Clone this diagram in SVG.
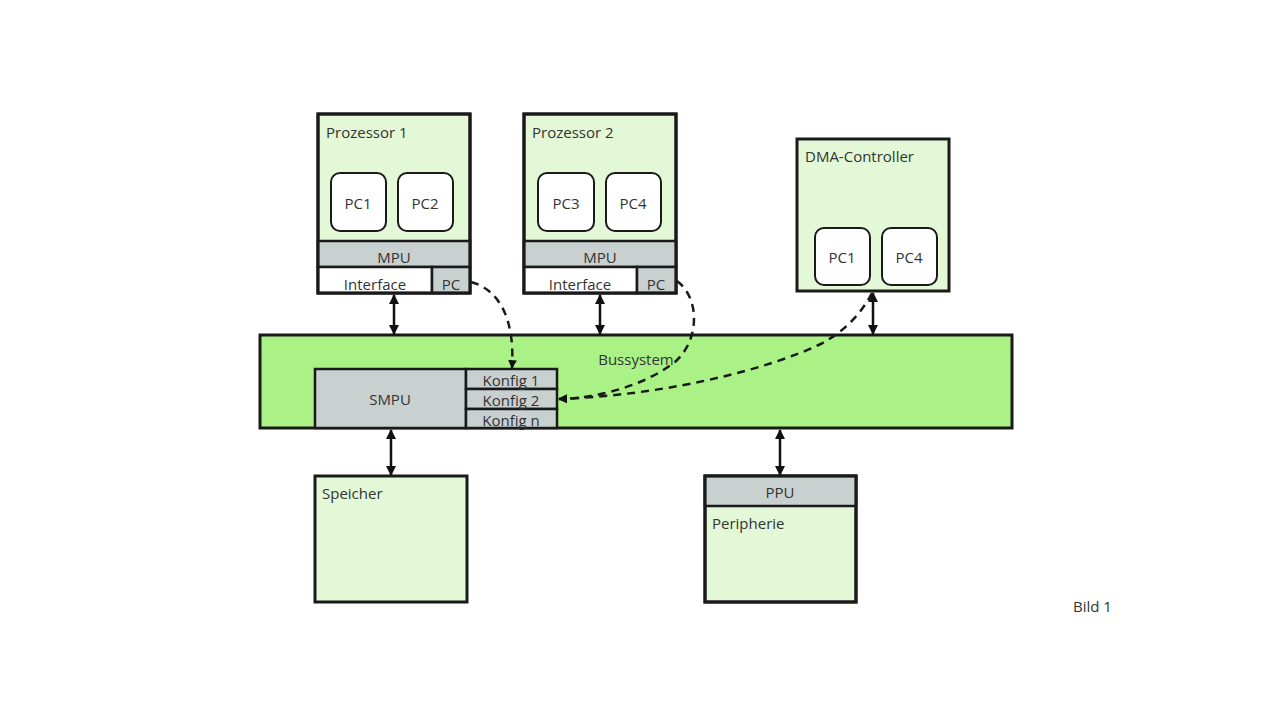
<svg xmlns="http://www.w3.org/2000/svg" width="1280" height="722" viewBox="0 0 1280 722">
<defs>
<style>
.box{fill:#e2f8d6;stroke:#1a1a1a;stroke-width:3}
.gray{fill:#c9d0d0;stroke:#1a1a1a;stroke-width:2.5}
.white{fill:#ffffff;stroke:#1a1a1a;stroke-width:2.5}
.pc{fill:#ffffff;stroke:#1a1a1a;stroke-width:2}
.bus{fill:#aaf286;stroke:#1a1a1a;stroke-width:3}
text{font-family:"Open Sans","Liberation Sans",sans-serif;font-size:15px;fill:#333}
.c{text-anchor:middle}
.arr{stroke:#111;stroke-width:2.5;fill:none;marker-start:url(#ah);marker-end:url(#ah)}
.dash{stroke:#1a1a1a;stroke-width:2.5;fill:none;stroke-dasharray:8 6;marker-end:url(#ah2)}
</style>
<marker id="ah" viewBox="0 0 10 10" refX="9" refY="5" markerWidth="4" markerHeight="4" orient="auto-start-reverse"><path d="M0,0 L10,5 L0,10 z" fill="#111"/></marker>
<marker id="ah2" viewBox="0 0 10 10" refX="9" refY="5" markerWidth="3.5" markerHeight="3.5" orient="auto"><path d="M0,0 L10,5 L0,10 z" fill="#111"/></marker>
</defs>
<rect width="1280" height="722" fill="#ffffff"/>

<g id="bus">
<rect class="bus" x="260" y="335" width="752" height="93"/>
<text class="c" x="636" y="365">Bussystem</text>
</g>
<g id="smpu">
<rect class="gray" x="315" y="369" width="151" height="59"/>
<text class="c" x="390" y="405">SMPU</text>
<rect class="gray" x="466" y="369" width="91" height="20"/>
<rect class="gray" x="466" y="389" width="91" height="20"/>
<rect class="gray" x="466" y="409" width="91" height="19"/>
<text class="c" x="511" y="386">Konfig 1</text>
<text class="c" x="511" y="406">Konfig 2</text>
<text class="c" x="511" y="426">Konfig n</text>
</g>

<g id="prozessor1">
<rect class="box" x="318" y="114" width="152" height="179"/>
<text x="326" y="138">Prozessor 1</text>
<rect class="pc" x="331" y="173" width="55" height="58" rx="9"/>
<text class="c" x="358" y="209">PC1</text>
<rect class="pc" x="398" y="173" width="55" height="58" rx="9"/>
<text class="c" x="425" y="209">PC2</text>
<rect class="gray" x="318" y="241" width="152" height="26"/>
<text class="c" x="394" y="263">MPU</text>
<rect class="white" x="318" y="267" width="114" height="26"/>
<text class="c" x="375" y="290">Interface</text>
<rect class="gray" x="432" y="267" width="38" height="26"/>
<text class="c" x="451" y="290">PC</text>
<rect x="318" y="114" width="152" height="179" fill="none" stroke="#1a1a1a" stroke-width="3"/>
</g>

<g id="prozessor2">
<rect class="box" x="524" y="114" width="152" height="179"/>
<text x="532" y="138">Prozessor 2</text>
<rect class="pc" x="538" y="173" width="56" height="58" rx="9"/>
<text class="c" x="566" y="209">PC3</text>
<rect class="pc" x="606" y="173" width="55" height="58" rx="9"/>
<text class="c" x="633" y="209">PC4</text>
<rect class="gray" x="524" y="241" width="152" height="26"/>
<text class="c" x="600" y="263">MPU</text>
<rect class="white" x="524" y="267" width="113" height="26"/>
<text class="c" x="580" y="290">Interface</text>
<rect class="gray" x="637" y="267" width="39" height="26"/>
<text class="c" x="656" y="290">PC</text>
<rect x="524" y="114" width="152" height="179" fill="none" stroke="#1a1a1a" stroke-width="3"/>
</g>

<g id="dma">
<rect class="box" x="797" y="139" width="152" height="152"/>
<text x="805" y="162">DMA-Controller</text>
<rect class="pc" x="815" y="228" width="55" height="57" rx="9"/>
<text class="c" x="842" y="263">PC1</text>
<rect class="pc" x="882" y="228" width="55" height="57" rx="9"/>
<text class="c" x="909" y="263">PC4</text>
</g>

<g id="speicher">
<rect class="box" x="315" y="476" width="152" height="126"/>
<text x="322" y="499">Speicher</text>
</g>

<g id="peripherie">
<rect class="box" x="705" y="476" width="151" height="126"/>
<rect class="gray" x="705" y="476" width="151" height="30"/>
<text class="c" x="780" y="498">PPU</text>
<text x="712" y="529">Peripherie</text>
<rect x="705" y="476" width="151" height="126" fill="none" stroke="#1a1a1a" stroke-width="3"/>
</g>

<g id="connectors">
<line class="arr" x1="394" y1="295" x2="394" y2="334"/>
<line class="arr" x1="600" y1="295" x2="600" y2="334"/>
<line class="arr" x1="873" y1="293" x2="873" y2="334"/>
<line class="arr" x1="391" y1="430" x2="391" y2="475"/>
<line class="arr" x1="780" y1="430" x2="780" y2="475"/>
<path class="dash" d="M471,282 C500,290 515,320 512,368"/>
<path class="dash" d="M677,281 C700,298 700,340 675,362 C645,385 600,398 559,399"/>
<path class="dash" d="M872,293 C855,325 830,342 800,353 C730,380 640,396 559,399"/>
</g>

<text x="1073" y="612">Bild 1</text>
</svg>
